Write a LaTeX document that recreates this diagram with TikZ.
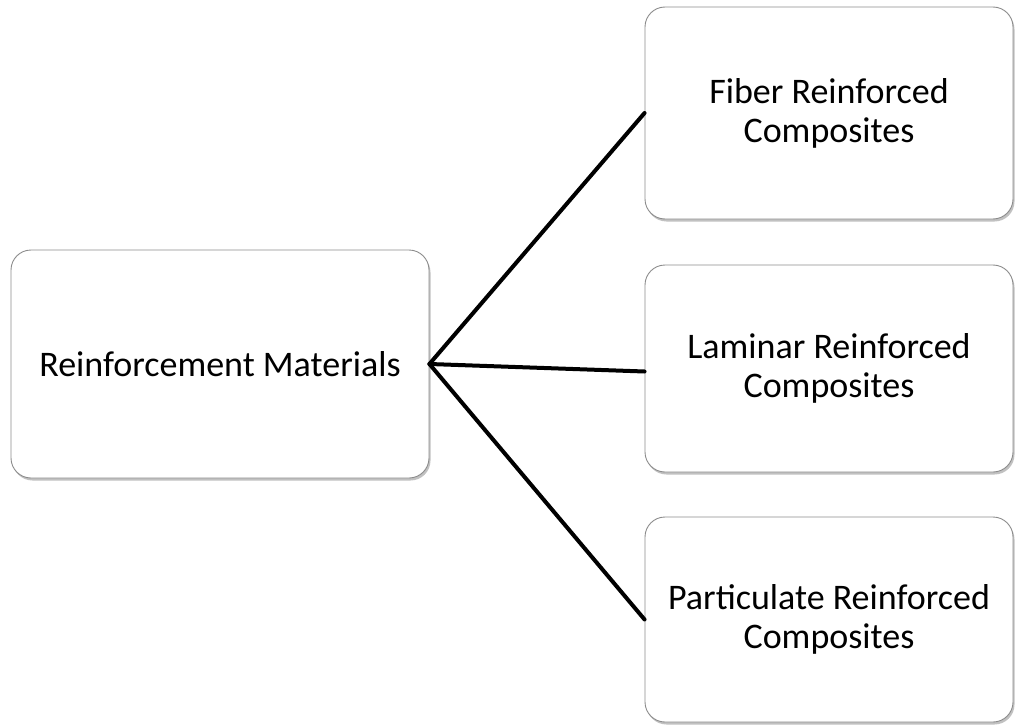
\documentclass[tikz,border=0pt]{standalone}
\usepackage{fontspec}
\setmainfont{Carlito}
\usetikzlibrary{shadows}
\begin{document}
\begin{tikzpicture}[x=1pt,y=-1pt,
  box/.style={draw=black!45, line width=0.9pt, rounded corners=20pt, fill=white,
    align=center, inner sep=0pt, font=\fontsize{36}{39}\selectfont,
    drop shadow={shadow xshift=1.5pt, shadow yshift=-2.5pt, opacity=0.35, fill=black!70}},
  link/.style={line width=4pt, black, line cap=round}]
\useasboundingbox (0,0) rectangle (1018,725);
\node[box, minimum width=418pt, minimum height=228pt] (R) at (220,364) {Reinforcement Materials};
\node[box, minimum width=368pt, minimum height=212pt] (F) at (829,113) {Fiber Reinforced\\Composites};
\node[box, minimum width=368pt, minimum height=207pt] (L) at (829,368.5) {Laminar Reinforced\\Composites};
\node[box, minimum width=368pt, minimum height=205pt] (P) at (829,619.5) {Particulate Reinforced\\Composites};
\draw[link] (R.east) -- (F.west);
\draw[link] (R.east) -- ([yshift=-3pt]L.west);
\draw[link] (R.east) -- (P.west);
\end{tikzpicture}
\end{document}
